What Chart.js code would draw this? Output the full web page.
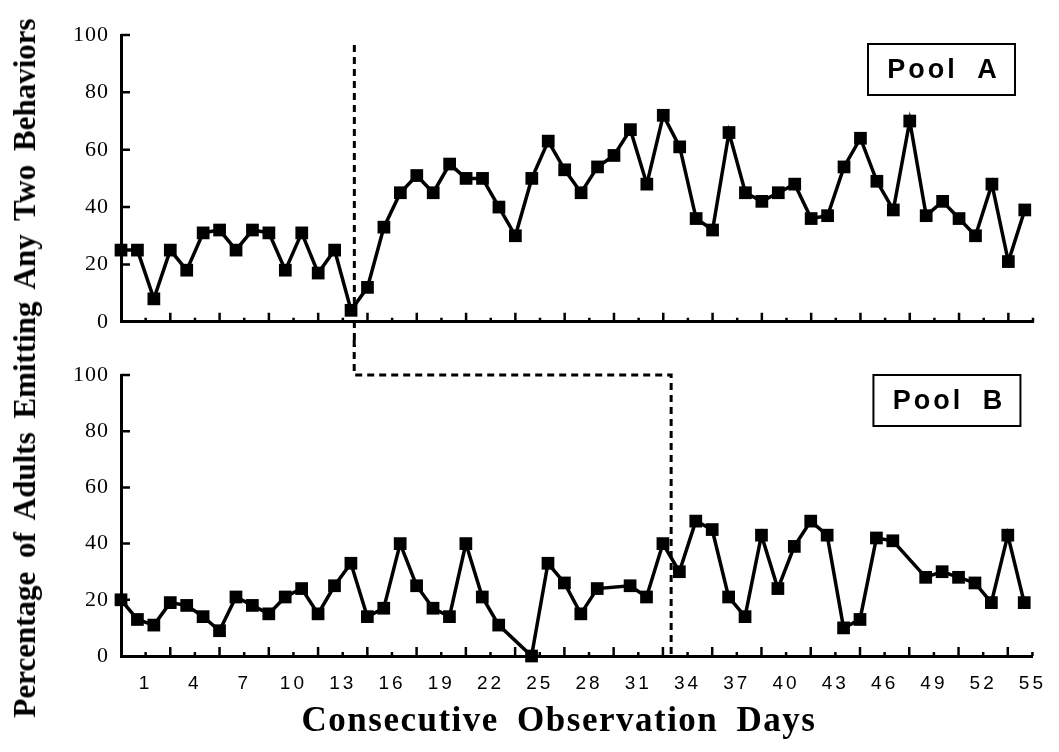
<!DOCTYPE html>
<html lang="en">
<head>
  <meta charset="UTF-8">
  <title>Pool A / Pool B</title>
  <script src="https://cdn.jsdelivr.net/npm/chart.js"></script>
  <style>
    body { margin: 0; background: #fff; }
    #wrap { position: relative; width: 1059px; height: 752px; overflow: hidden; }
    #cTop { position: absolute; left: 0; top: 0; }
    #cBot { position: absolute; left: 0; top: 340px; }
    .ytitle {
      position: absolute; left: 25px; top: 368px;
      transform: translate(-50%, -50%) rotate(-90deg);
      font: bold 31px 'Liberation Serif', serif; word-spacing: 6px; white-space: nowrap; color: #000;
    }
    .xtitle {
      position: absolute; left: 559px; top: 720px;
      transform: translate(-50%, -50%);
      font: bold 35px 'Liberation Serif', serif; letter-spacing: 1.5px; word-spacing: 8px; white-space: nowrap; color: #000;
    }
  </style>
</head>
<body>
  <div id="wrap">
    <canvas id="cTop" width="1059" height="347"></canvas>
    <canvas id="cBot" width="1059" height="412"></canvas>
    <div class="ytitle">Percentage of Adults Emitting Any Two Behaviors</div>
    <div class="xtitle">Consecutive Observation Days</div>
  </div>

  <script>
    // observation index (one point per day)
    const days = Array.from({length: 56}, (_, i) => i);
    const dayTicks = [1, 4, 7, 10, 13, 16, 19, 22, 25, 28, 31, 34, 37, 40, 43, 46, 49, 52, 55];

    const poolA = [25, 25, 8, 25, 18, 31, 32, 25, 32, 31, 18, 31, 17, 25, 4, 12, 33, 45, 51, 45,
                   55, 50, 50, 40, 30, 50, 63, 53, 45, 54, 58, 67, 48, 72, 61, 36, 32, 66, 45, 42,
                   45, 48, 36, 37, 54, 64, 49, 39, 70, 37, 42, 36, 30, 48, 21, 39];
    const poolB = [20, 13, 11, 19, 18, 14, 9, 21, 18, 15, 21, 24, 15, 25, 33, 14, 17, 40, 25, 17,
                   14, 40, 21, 11, null, 0, 33, 26, 15, 24, null, 25, 21, 40, 30, 48, 45, 21, 14, 43,
                   24, 39, 48, 43, 10, 13, 42, 41, null, 28, 30, 28, 26, 19, 43, 19];

    // phase change lines (in day-index units)
    const phaseA = 14.2;
    const phaseB = 33.5;
    const phaseLineTop = 96.5;

    // tick marks drawn inside the plot, like the original
    const inwardTicks = {
      id: 'inwardTicks',
      beforeDatasetsDraw(chart) {
        const {ctx, scales: {x, y}, chartArea} = chart;
        ctx.save();
        ctx.strokeStyle = '#000';
        ctx.lineWidth = 2.5;
        ctx.beginPath();
        x.ticks.forEach(t => {
          if (t.value <= 0) return;
          const px = x.getPixelForValue(t.value);
          const len = t.value % 3 === 0 ? 9 : 4;
          ctx.moveTo(px, chartArea.bottom);
          ctx.lineTo(px, chartArea.bottom - len);
        });
        y.ticks.forEach(t => {
          if (t.value <= 0) return;
          const py = y.getPixelForValue(t.value);
          ctx.moveTo(chartArea.left, py);
          ctx.lineTo(chartArea.left + 9, py);
        });
        ctx.stroke();
        ctx.restore();
      }
    };

    // wider letter spacing on the tick labels (x wider than y)
    const spacing = {
      id: 'spacing',
      beforeDraw(chart) {
        ['x', 'y'].forEach(id => {
          const s = chart.scales[id];
          if (s._spaced) return;
          const orig = s.drawLabels;
          const gap = id === 'x' ? '3px' : '1px';
          s.drawLabels = function (area) {
            this.ctx.letterSpacing = gap;
            orig.call(this, area);
            this.ctx.letterSpacing = '0px';
          };
          s._spaced = true;
        });
      }
    };

    const poolLabel = {
      id: 'poolLabel',
      afterDraw(chart, args, opts) {
        const {ctx, chartArea} = chart;
        const w = 147, h = 51;
        const left = chartArea.right - opts.dx - w;
        const top = chartArea.top + opts.dy;
        ctx.save();
        ctx.fillStyle = '#fff';
        ctx.fillRect(left, top, w, h);
        ctx.strokeStyle = '#000';
        ctx.lineWidth = 2;
        ctx.strokeRect(left, top, w, h);
        ctx.fillStyle = '#000';
        ctx.font = 'bold 27px "Liberation Sans", Arial, sans-serif';
        ctx.letterSpacing = '3px';
        ctx.wordSpacing = '9px';
        ctx.textAlign = 'center';
        ctx.textBaseline = 'middle';
        ctx.fillText(opts.text, left + w / 2 + 2, top + h / 2 + 1);
        ctx.restore();
      }
    };

    const phaseTop = {
      id: 'phaseTop',
      afterDatasetsDraw(chart) {
        const {ctx, scales: {x, y}} = chart;
        const px = x.getPixelForValue(phaseA);
        ctx.save();
        ctx.strokeStyle = '#000';
        ctx.lineWidth = 3;
        ctx.setLineDash([7, 5]);
        ctx.beginPath();
        ctx.moveTo(px, y.getPixelForValue(phaseLineTop));
        ctx.lineTo(px, chart.height);
        ctx.stroke();
        ctx.restore();
      }
    };

    const phaseBot = {
      id: 'phaseBot',
      afterDatasetsDraw(chart) {
        const {ctx, scales: {x, y}} = chart;
        const xa = x.getPixelForValue(phaseA);
        const xb = x.getPixelForValue(phaseB);
        const y100 = y.getPixelForValue(100);
        ctx.save();
        ctx.strokeStyle = '#000';
        ctx.lineWidth = 3;
        ctx.setLineDash([7, 5]);
        ctx.beginPath();
        ctx.moveTo(xa, 0);
        ctx.lineTo(xa, y100);
        ctx.lineTo(xb, y100);
        ctx.lineTo(xb, y.getPixelForValue(0));
        ctx.stroke();
        ctx.restore();
      }
    };

    function makeChart(id, values, label, showLabels, xHeight, boxPos, phasePlugin) {
      return new Chart(document.getElementById(id), {
        type: 'line',
        data: {
          labels: days,
          datasets: [{
            data: values,
            borderColor: '#000',
            borderWidth: 3.5,
            pointStyle: 'rect',
            pointRadius: 9,
            pointHoverRadius: 9,
            pointBackgroundColor: '#000',
            pointBorderWidth: 0,
            tension: 0,
            spanGaps: true,
            clip: false
          }]
        },
        options: {
          responsive: false,
          animation: false,
          events: [],
          layout: { padding: { top: 35, right: 26, bottom: 0, left: 0 } },
          plugins: {
            legend: { display: false },
            tooltip: { enabled: false },
            poolLabel: { text: label, dx: boxPos.dx, dy: boxPos.dy }
          },
          scales: {
            x: {
              type: 'linear',
              min: 0,
              max: 55.5,
              grid: { display: false, drawTicks: false },
              border: { display: true, color: '#000', width: 3 },
              afterFit: s => { s.height = xHeight; },
              ticks: {
                display: showLabels,
                stepSize: 1.5,
                autoSkip: false,
                maxRotation: 0,
                padding: 16,
                color: '#000',
                font: { family: '"Liberation Sans", Arial, sans-serif', size: 19 },
                callback: v => dayTicks.includes(v - 0.5) ? String(v - 0.5) : ''
              }
            },
            y: {
              min: 0,
              max: 100,
              grid: { display: false, drawTicks: false },
              border: { display: true, color: '#000', width: 3 },
              afterFit: s => { s.width = 121; },
              ticks: {
                stepSize: 20,
                padding: 12,
                color: '#000',
                font: { family: '"Liberation Serif", "Times New Roman", serif', size: 22 }
              }
            }
          }
        },
        plugins: [spacing, inwardTicks, phasePlugin, poolLabel]
      });
    }

    makeChart('cTop', poolA, 'Pool A', false, 18, {dx: 18, dy: 9}, phaseTop);
    makeChart('cBot', poolB, 'Pool B', true, 96, {dx: 12, dy: 0}, phaseBot);
  </script>
</body>
</html>
